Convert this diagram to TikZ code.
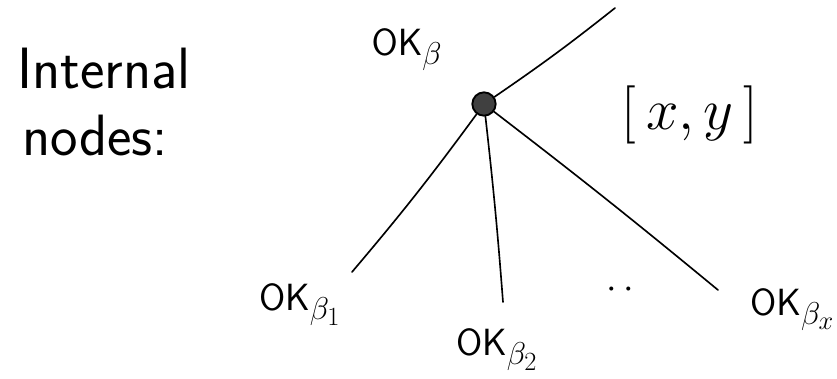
\documentclass[tikz,border=0pt]{standalone}
\usepackage{amsmath,amssymb}
\usepackage{graphicx}
\usepackage{tikz}
\usetikzlibrary{positioning}
\newcommand{\bigmath}[2]{\scalebox{#1}{\Huge$#2$}}
\newcommand{\bigword}[2]{\scalebox{#1}{\Huge\sffamily #2}}

\begin{document}
\begin{tikzpicture}[x=0.03cm, y=-0.03cm]
\tikzstyle{edge}=[line width=1.4pt, line cap=round]
\tikzstyle{lbl}=[inner sep=0pt]
\useasboundingbox (0,0) rectangle (837,378);
\node[lbl, anchor=base west] (title1) at (17,88) {\bigword{2}{Internal}};
\node[lbl, anchor=base west] (title2) at (22,155) {\bigword{2}{nodes:}};
\node[draw, circle, line width=1.6pt, fill=black!75, minimum size=0.7cm, inner sep=0pt] (root) at (484,104) {};
\node[lbl] (okb) at (407,50) {\bigmath{1.3}{\mathsf{OK}_{\beta}}};
\node[lbl] (xy) at (690,115) {\bigmath{2}{[\,x, y\,]}};
\node[lbl] (okb1) at (300,305) {\bigmath{1.3}{\mathsf{OK}_{\beta_1}}};
\node[lbl] (okb2) at (497,350) {\bigmath{1.3}{\mathsf{OK}_{\beta_2}}};
\node[lbl] (dots) at (620,290) {\bigmath{1.3}{\cdot\,\cdot}};
\node[lbl, anchor=west] (okbx) at (750,310) {\bigmath{1.3}{\mathsf{OK}_{\beta_x}}};
\coordinate (top) at (615,8);
\coordinate (e1) at (352,272);
\coordinate (e2) at (503,302);
\coordinate (ex) at (718,290);
\draw[edge] (root) to[bend right=2] (top);
\draw[edge] (root) to[bend left=2] (e1);
\draw[edge] (root) to[bend left=1] (e2);
\draw[edge] (root) to[bend left=1] (ex);
\end{tikzpicture}
\end{document}
